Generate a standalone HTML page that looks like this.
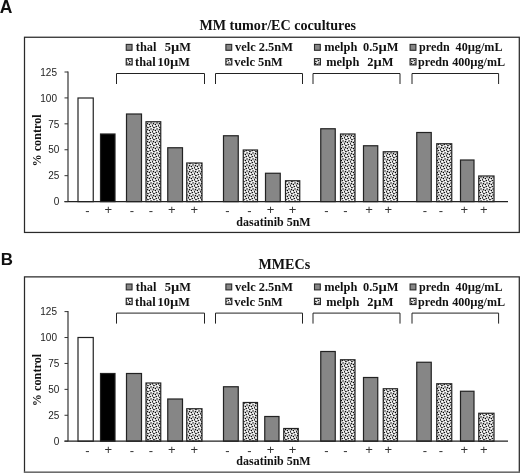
<!DOCTYPE html>
<html><head><meta charset="utf-8"><title>Figure</title>
<style>
html,body{margin:0;padding:0;background:#fff;}
svg{display:block}
.tb{font-family:"Liberation Serif",serif;font-weight:bold;fill:#111}
.ar{font-family:"Liberation Sans",sans-serif;fill:#222}
.sg{font-family:"Liberation Sans",sans-serif;fill:#333}
.ab{font-family:"Liberation Sans",sans-serif;font-weight:bold;fill:#111}
</style></head><body>
<svg width="520" height="473" viewBox="0 0 520 473">
<defs>
<pattern id="dots" x="5" y="4" width="6" height="6" patternUnits="userSpaceOnUse">
<rect width="6" height="6" fill="#fff"/>
<g shape-rendering="crispEdges"><rect x="0" y="0" width="1" height="1" fill="#000000"/><rect x="1" y="0" width="1" height="1" fill="#e6e6e6"/><rect x="2" y="0" width="1" height="1" fill="#c8c8c8"/><rect x="3" y="0" width="1" height="1" fill="#aaaaaa"/><rect x="4" y="0" width="1" height="1" fill="#aaaaaa"/><rect x="5" y="0" width="1" height="1" fill="#a0a0a0"/><rect x="0" y="1" width="1" height="1" fill="#bebebe"/><rect x="1" y="1" width="1" height="1" fill="#dcdcdc"/><rect x="2" y="1" width="1" height="1" fill="#f0f0f0"/><rect x="3" y="1" width="1" height="1" fill="#282828"/><rect x="4" y="1" width="1" height="1" fill="#f0f0f0"/><rect x="0" y="2" width="1" height="1" fill="#969696"/><rect x="1" y="2" width="1" height="1" fill="#141414"/><rect x="2" y="2" width="1" height="1" fill="#dcdcdc"/><rect x="3" y="2" width="1" height="1" fill="#787878"/><rect x="4" y="2" width="1" height="1" fill="#c8c8c8"/><rect x="5" y="2" width="1" height="1" fill="#f0f0f0"/><rect x="0" y="3" width="1" height="1" fill="#c8c8c8"/><rect x="1" y="3" width="1" height="1" fill="#d2d2d2"/><rect x="3" y="3" width="1" height="1" fill="#f0f0f0"/><rect x="4" y="3" width="1" height="1" fill="#323232"/><rect x="5" y="3" width="1" height="1" fill="#464646"/><rect x="1" y="4" width="1" height="1" fill="#969696"/><rect x="2" y="4" width="1" height="1" fill="#828282"/><rect x="3" y="4" width="1" height="1" fill="#f0f0f0"/><rect x="4" y="4" width="1" height="1" fill="#c8c8c8"/><rect x="5" y="4" width="1" height="1" fill="#d2d2d2"/><rect x="0" y="5" width="1" height="1" fill="#c8c8c8"/><rect x="1" y="5" width="1" height="1" fill="#8c8c8c"/><rect x="2" y="5" width="1" height="1" fill="#969696"/><rect x="3" y="5" width="1" height="1" fill="#bebebe"/><rect x="4" y="5" width="1" height="1" fill="#0a0a0a"/><rect x="5" y="5" width="1" height="1" fill="#c8c8c8"/></g>
</pattern>
</defs>
<rect width="520" height="473" fill="#fff"/>
<rect x="24.5" y="37.25" width="494.8" height="195.2" fill="none" stroke="#2a2a2a" stroke-width="1.25"/>
<text x="199.4" y="29.50" textLength="156.5" lengthAdjust="spacingAndGlyphs" class="tb" font-size="13.6">MM tumor/EC cocultures</text>
<text x="-0.2" y="12.6" class="ab" font-size="17.5">A</text>
<rect x="78.00" y="98.00" width="15.25" height="103.60" fill="#fff" stroke="#222" stroke-width="1.2"/>
<rect x="100.50" y="134.00" width="14.50" height="67.60" fill="#000" stroke="#222" stroke-width="1.2"/>
<rect x="126.50" y="114.00" width="15.00" height="87.60" fill="#868686" stroke="#222" stroke-width="1.2"/>
<rect x="146.00" y="121.75" width="14.75" height="79.85" fill="url(#dots)" stroke="#222" stroke-width="1.2"/>
<rect x="167.75" y="147.75" width="14.75" height="53.85" fill="#868686" stroke="#222" stroke-width="1.2"/>
<rect x="186.75" y="163.00" width="15.25" height="38.60" fill="url(#dots)" stroke="#222" stroke-width="1.2"/>
<rect x="223.50" y="135.75" width="14.75" height="65.85" fill="#868686" stroke="#222" stroke-width="1.2"/>
<rect x="243.25" y="150.00" width="14.25" height="51.60" fill="url(#dots)" stroke="#222" stroke-width="1.2"/>
<rect x="265.50" y="173.25" width="14.75" height="28.35" fill="#868686" stroke="#222" stroke-width="1.2"/>
<rect x="285.50" y="180.75" width="14.25" height="20.85" fill="url(#dots)" stroke="#222" stroke-width="1.2"/>
<rect x="320.75" y="128.75" width="14.50" height="72.85" fill="#868686" stroke="#222" stroke-width="1.2"/>
<rect x="340.50" y="134.00" width="14.50" height="67.60" fill="url(#dots)" stroke="#222" stroke-width="1.2"/>
<rect x="363.50" y="145.75" width="14.25" height="55.85" fill="#868686" stroke="#222" stroke-width="1.2"/>
<rect x="383.25" y="151.75" width="14.25" height="49.85" fill="url(#dots)" stroke="#222" stroke-width="1.2"/>
<rect x="416.75" y="132.50" width="14.50" height="69.10" fill="#868686" stroke="#222" stroke-width="1.2"/>
<rect x="436.75" y="143.75" width="15.00" height="57.85" fill="url(#dots)" stroke="#222" stroke-width="1.2"/>
<rect x="460.50" y="160.00" width="13.50" height="41.60" fill="#868686" stroke="#222" stroke-width="1.2"/>
<rect x="478.75" y="176.00" width="15.25" height="25.60" fill="url(#dots)" stroke="#222" stroke-width="1.2"/>
<line x1="68" y1="71.50" x2="68" y2="201.60" stroke="#333" stroke-width="1.2"/>
<line x1="64.5" y1="201.60" x2="508" y2="201.60" stroke="#222" stroke-width="1.3"/>
<line x1="64.5" y1="201.60" x2="68" y2="201.60" stroke="#333" stroke-width="1"/>
<text x="59.4" y="205.30" text-anchor="end" class="ar" font-size="10">0</text>
<line x1="64.5" y1="175.68" x2="68" y2="175.68" stroke="#333" stroke-width="1"/>
<text x="59.4" y="179.38" text-anchor="end" class="ar" font-size="10">25</text>
<line x1="64.5" y1="149.76" x2="68" y2="149.76" stroke="#333" stroke-width="1"/>
<text x="59.4" y="153.46" text-anchor="end" class="ar" font-size="10">50</text>
<line x1="64.5" y1="123.84" x2="68" y2="123.84" stroke="#333" stroke-width="1"/>
<text x="59.4" y="127.54" text-anchor="end" class="ar" font-size="10">75</text>
<line x1="64.5" y1="97.92" x2="68" y2="97.92" stroke="#333" stroke-width="1"/>
<text x="57" y="101.62" text-anchor="end" class="ar" font-size="10">100</text>
<line x1="64.5" y1="72.00" x2="68" y2="72.00" stroke="#333" stroke-width="1"/>
<text x="57" y="75.70" text-anchor="end" class="ar" font-size="10">125</text>
<text transform="translate(40.8,140.40) rotate(-90)" text-anchor="middle" class="tb" font-size="12.2">% control</text>
<text x="87.5" y="214.90" text-anchor="middle" class="sg" font-size="13">-</text>
<text x="108.25" y="214.10" text-anchor="middle" class="sg" font-size="13">+</text>
<text x="132" y="214.90" text-anchor="middle" class="sg" font-size="13">-</text>
<text x="151" y="214.90" text-anchor="middle" class="sg" font-size="13">-</text>
<text x="171.75" y="214.10" text-anchor="middle" class="sg" font-size="13">+</text>
<text x="194.25" y="214.10" text-anchor="middle" class="sg" font-size="13">+</text>
<text x="227.5" y="214.90" text-anchor="middle" class="sg" font-size="13">-</text>
<text x="249.5" y="214.90" text-anchor="middle" class="sg" font-size="13">-</text>
<text x="270.5" y="214.10" text-anchor="middle" class="sg" font-size="13">+</text>
<text x="292.5" y="214.10" text-anchor="middle" class="sg" font-size="13">+</text>
<text x="326.5" y="214.90" text-anchor="middle" class="sg" font-size="13">-</text>
<text x="345.5" y="214.90" text-anchor="middle" class="sg" font-size="13">-</text>
<text x="369" y="214.10" text-anchor="middle" class="sg" font-size="13">+</text>
<text x="388.25" y="214.10" text-anchor="middle" class="sg" font-size="13">+</text>
<text x="425" y="214.90" text-anchor="middle" class="sg" font-size="13">-</text>
<text x="441" y="214.90" text-anchor="middle" class="sg" font-size="13">-</text>
<text x="464.25" y="214.10" text-anchor="middle" class="sg" font-size="13">+</text>
<text x="483.75" y="214.10" text-anchor="middle" class="sg" font-size="13">+</text>
<text x="273.5" y="225.50" text-anchor="middle" class="tb" font-size="12">dasatinib 5nM</text>
<path d="M116.5 84.00V73.50H204.5V84.00" fill="none" stroke="#222" stroke-width="1"/>
<path d="M215.5 84.00V73.50H302.5V84.00" fill="none" stroke="#222" stroke-width="1"/>
<path d="M313 84.00V73.50H400V84.00" fill="none" stroke="#222" stroke-width="1"/>
<path d="M412 84.00V73.50H498.6V84.00" fill="none" stroke="#222" stroke-width="1"/>
<rect x="126.25" y="44.40" width="5.8" height="5.9" fill="#868686" stroke="#2a2a2a" stroke-width="1.1"/>
<rect x="126.25" y="58.70" width="5.9" height="6.2" fill="url(#dots)" stroke="#2a2a2a" stroke-width="1.2"/>
<text x="135.8" y="51.30" class="tb" font-size="12.4">thal</text>
<text x="191.0" y="51.30" text-anchor="end" class="tb" font-size="12.4">M</text>
<text transform="translate(171.01,51.30) scale(1.16,1)" class="tb" font-size="12.4">µ</text>
<text x="171.01" y="51.30" text-anchor="end" class="tb" font-size="12.4">5</text>
<text x="135.0" y="66.40" class="tb" font-size="12.4">thal</text>
<text x="189.9" y="66.40" text-anchor="end" class="tb" font-size="12.4">M</text>
<text transform="translate(169.91,66.40) scale(1.16,1)" class="tb" font-size="12.4">µ</text>
<text x="169.91" y="66.40" text-anchor="end" class="tb" font-size="12.4">10</text>
<rect x="225.90" y="44.40" width="5.8" height="5.9" fill="#868686" stroke="#2a2a2a" stroke-width="1.1"/>
<rect x="225.90" y="58.70" width="5.9" height="6.2" fill="url(#dots)" stroke="#2a2a2a" stroke-width="1.2"/>
<text x="235.1" y="51.30" class="tb" font-size="12.4">velc</text>
<text x="292.9" y="51.30" text-anchor="end" class="tb" font-size="12.4">2.5nM</text>
<text x="234.3" y="66.40" class="tb" font-size="12.4">velc</text>
<text x="282.8" y="66.40" text-anchor="end" class="tb" font-size="12.4">5nM</text>
<rect x="314.50" y="44.40" width="5.8" height="5.9" fill="#868686" stroke="#2a2a2a" stroke-width="1.1"/>
<rect x="314.50" y="58.70" width="5.9" height="6.2" fill="url(#dots)" stroke="#2a2a2a" stroke-width="1.2"/>
<text x="324.3" y="51.30" class="tb" font-size="12.4">melph</text>
<text x="398.5" y="51.30" text-anchor="end" class="tb" font-size="12.4">M</text>
<text transform="translate(378.51,51.30) scale(1.16,1)" class="tb" font-size="12.4">µ</text>
<text x="378.51" y="51.30" text-anchor="end" class="tb" font-size="12.4">0.5</text>
<text x="326.3" y="66.40" class="tb" font-size="12.4">melph</text>
<text x="393.5" y="66.40" text-anchor="end" class="tb" font-size="12.4">M</text>
<text transform="translate(373.51,66.40) scale(1.16,1)" class="tb" font-size="12.4">µ</text>
<text x="373.51" y="66.40" text-anchor="end" class="tb" font-size="12.4">2</text>
<rect x="410.10" y="44.40" width="5.8" height="5.9" fill="#868686" stroke="#2a2a2a" stroke-width="1.1"/>
<rect x="410.10" y="58.70" width="5.9" height="6.2" fill="url(#dots)" stroke="#2a2a2a" stroke-width="1.2"/>
<text x="419.1" y="51.30" class="tb" font-size="12.1">predn</text>
<text x="502.5" y="51.30" text-anchor="end" class="tb" font-size="12.1">g/mL</text>
<text transform="translate(467.69,51.30) scale(1.04,1)" class="tb" font-size="12.1">µ</text>
<text x="467.69" y="51.30" text-anchor="end" class="tb" font-size="12.1">40</text>
<text x="418.1" y="66.40" class="tb" font-size="12.1">predn</text>
<text x="505.1" y="66.40" text-anchor="end" class="tb" font-size="12.1">g/mL</text>
<text transform="translate(470.29,66.40) scale(1.04,1)" class="tb" font-size="12.1">µ</text>
<text x="470.29" y="66.40" text-anchor="end" class="tb" font-size="12.1">400</text>
<path d="M24.5 472.65V276.85H519.3V472.65" fill="none" stroke="#2a2a2a" stroke-width="1.25"/>
<rect x="23.9" y="471.4" width="496.1" height="1.6" fill="#6c6c6c"/>
<text x="258.5" y="269.10" textLength="51.7" lengthAdjust="spacingAndGlyphs" class="tb" font-size="13.6">MMECs</text>
<text x="0.8" y="265.2" class="ab" font-size="16.9">B</text>
<rect x="78.00" y="337.50" width="15.25" height="103.70" fill="#fff" stroke="#222" stroke-width="1.2"/>
<rect x="100.50" y="373.50" width="14.50" height="67.70" fill="#000" stroke="#222" stroke-width="1.2"/>
<rect x="126.50" y="373.50" width="15.00" height="67.70" fill="#868686" stroke="#222" stroke-width="1.2"/>
<rect x="146.00" y="383.00" width="14.75" height="58.20" fill="url(#dots)" stroke="#222" stroke-width="1.2"/>
<rect x="167.75" y="399.00" width="14.75" height="42.20" fill="#868686" stroke="#222" stroke-width="1.2"/>
<rect x="186.75" y="408.75" width="15.25" height="32.45" fill="url(#dots)" stroke="#222" stroke-width="1.2"/>
<rect x="223.50" y="386.75" width="14.75" height="54.45" fill="#868686" stroke="#222" stroke-width="1.2"/>
<rect x="243.25" y="402.50" width="14.25" height="38.70" fill="url(#dots)" stroke="#222" stroke-width="1.2"/>
<rect x="264.75" y="416.50" width="14.25" height="24.70" fill="#868686" stroke="#222" stroke-width="1.2"/>
<rect x="283.75" y="428.50" width="14.50" height="12.70" fill="url(#dots)" stroke="#222" stroke-width="1.2"/>
<rect x="320.75" y="351.50" width="14.50" height="89.70" fill="#868686" stroke="#222" stroke-width="1.2"/>
<rect x="340.50" y="359.75" width="14.50" height="81.45" fill="url(#dots)" stroke="#222" stroke-width="1.2"/>
<rect x="363.50" y="377.50" width="14.25" height="63.70" fill="#868686" stroke="#222" stroke-width="1.2"/>
<rect x="383.25" y="388.75" width="14.25" height="52.45" fill="url(#dots)" stroke="#222" stroke-width="1.2"/>
<rect x="416.75" y="362.25" width="14.50" height="78.95" fill="#868686" stroke="#222" stroke-width="1.2"/>
<rect x="436.75" y="383.75" width="15.00" height="57.45" fill="url(#dots)" stroke="#222" stroke-width="1.2"/>
<rect x="460.50" y="391.25" width="13.50" height="49.95" fill="#868686" stroke="#222" stroke-width="1.2"/>
<rect x="478.75" y="413.25" width="15.25" height="27.95" fill="url(#dots)" stroke="#222" stroke-width="1.2"/>
<line x1="68" y1="311.10" x2="68" y2="441.20" stroke="#333" stroke-width="1.2"/>
<line x1="64.5" y1="441.20" x2="508" y2="441.20" stroke="#222" stroke-width="1.3"/>
<line x1="64.5" y1="441.20" x2="68" y2="441.20" stroke="#333" stroke-width="1"/>
<text x="59.4" y="444.90" text-anchor="end" class="ar" font-size="10">0</text>
<line x1="64.5" y1="415.28" x2="68" y2="415.28" stroke="#333" stroke-width="1"/>
<text x="59.4" y="418.98" text-anchor="end" class="ar" font-size="10">25</text>
<line x1="64.5" y1="389.36" x2="68" y2="389.36" stroke="#333" stroke-width="1"/>
<text x="59.4" y="393.06" text-anchor="end" class="ar" font-size="10">50</text>
<line x1="64.5" y1="363.44" x2="68" y2="363.44" stroke="#333" stroke-width="1"/>
<text x="59.4" y="367.14" text-anchor="end" class="ar" font-size="10">75</text>
<line x1="64.5" y1="337.52" x2="68" y2="337.52" stroke="#333" stroke-width="1"/>
<text x="57" y="341.22" text-anchor="end" class="ar" font-size="10">100</text>
<line x1="64.5" y1="311.60" x2="68" y2="311.60" stroke="#333" stroke-width="1"/>
<text x="57" y="315.30" text-anchor="end" class="ar" font-size="10">125</text>
<text transform="translate(40.8,380.00) rotate(-90)" text-anchor="middle" class="tb" font-size="12.2">% control</text>
<text x="87.5" y="454.50" text-anchor="middle" class="sg" font-size="13">-</text>
<text x="108.25" y="453.70" text-anchor="middle" class="sg" font-size="13">+</text>
<text x="132" y="454.50" text-anchor="middle" class="sg" font-size="13">-</text>
<text x="151" y="454.50" text-anchor="middle" class="sg" font-size="13">-</text>
<text x="171.75" y="453.70" text-anchor="middle" class="sg" font-size="13">+</text>
<text x="194.25" y="453.70" text-anchor="middle" class="sg" font-size="13">+</text>
<text x="227.5" y="454.50" text-anchor="middle" class="sg" font-size="13">-</text>
<text x="249.5" y="454.50" text-anchor="middle" class="sg" font-size="13">-</text>
<text x="270.5" y="453.70" text-anchor="middle" class="sg" font-size="13">+</text>
<text x="292.5" y="453.70" text-anchor="middle" class="sg" font-size="13">+</text>
<text x="326.5" y="454.50" text-anchor="middle" class="sg" font-size="13">-</text>
<text x="345.5" y="454.50" text-anchor="middle" class="sg" font-size="13">-</text>
<text x="369" y="453.70" text-anchor="middle" class="sg" font-size="13">+</text>
<text x="388.25" y="453.70" text-anchor="middle" class="sg" font-size="13">+</text>
<text x="425" y="454.50" text-anchor="middle" class="sg" font-size="13">-</text>
<text x="441" y="454.50" text-anchor="middle" class="sg" font-size="13">-</text>
<text x="464.25" y="453.70" text-anchor="middle" class="sg" font-size="13">+</text>
<text x="483.75" y="453.70" text-anchor="middle" class="sg" font-size="13">+</text>
<text x="273.5" y="465.10" text-anchor="middle" class="tb" font-size="12">dasatinib 5nM</text>
<path d="M116.5 323.60V313.10H204.5V323.60" fill="none" stroke="#222" stroke-width="1"/>
<path d="M215.5 323.60V313.10H302.5V323.60" fill="none" stroke="#222" stroke-width="1"/>
<path d="M313 323.60V313.10H400V323.60" fill="none" stroke="#222" stroke-width="1"/>
<path d="M412 323.60V313.10H498.6V323.60" fill="none" stroke="#222" stroke-width="1"/>
<rect x="126.25" y="284.00" width="5.8" height="5.9" fill="#868686" stroke="#2a2a2a" stroke-width="1.1"/>
<rect x="126.25" y="298.30" width="5.9" height="6.2" fill="url(#dots)" stroke="#2a2a2a" stroke-width="1.2"/>
<text x="135.8" y="290.90" class="tb" font-size="12.4">thal</text>
<text x="191.0" y="290.90" text-anchor="end" class="tb" font-size="12.4">M</text>
<text transform="translate(171.01,290.90) scale(1.16,1)" class="tb" font-size="12.4">µ</text>
<text x="171.01" y="290.90" text-anchor="end" class="tb" font-size="12.4">5</text>
<text x="135.0" y="306.00" class="tb" font-size="12.4">thal</text>
<text x="189.9" y="306.00" text-anchor="end" class="tb" font-size="12.4">M</text>
<text transform="translate(169.91,306.00) scale(1.16,1)" class="tb" font-size="12.4">µ</text>
<text x="169.91" y="306.00" text-anchor="end" class="tb" font-size="12.4">10</text>
<rect x="225.90" y="284.00" width="5.8" height="5.9" fill="#868686" stroke="#2a2a2a" stroke-width="1.1"/>
<rect x="225.90" y="298.30" width="5.9" height="6.2" fill="url(#dots)" stroke="#2a2a2a" stroke-width="1.2"/>
<text x="235.1" y="290.90" class="tb" font-size="12.4">velc</text>
<text x="292.9" y="290.90" text-anchor="end" class="tb" font-size="12.4">2.5nM</text>
<text x="234.3" y="306.00" class="tb" font-size="12.4">velc</text>
<text x="282.8" y="306.00" text-anchor="end" class="tb" font-size="12.4">5nM</text>
<rect x="314.50" y="284.00" width="5.8" height="5.9" fill="#868686" stroke="#2a2a2a" stroke-width="1.1"/>
<rect x="314.50" y="298.30" width="5.9" height="6.2" fill="url(#dots)" stroke="#2a2a2a" stroke-width="1.2"/>
<text x="324.3" y="290.90" class="tb" font-size="12.4">melph</text>
<text x="398.5" y="290.90" text-anchor="end" class="tb" font-size="12.4">M</text>
<text transform="translate(378.51,290.90) scale(1.16,1)" class="tb" font-size="12.4">µ</text>
<text x="378.51" y="290.90" text-anchor="end" class="tb" font-size="12.4">0.5</text>
<text x="326.3" y="306.00" class="tb" font-size="12.4">melph</text>
<text x="393.5" y="306.00" text-anchor="end" class="tb" font-size="12.4">M</text>
<text transform="translate(373.51,306.00) scale(1.16,1)" class="tb" font-size="12.4">µ</text>
<text x="373.51" y="306.00" text-anchor="end" class="tb" font-size="12.4">2</text>
<rect x="410.10" y="284.00" width="5.8" height="5.9" fill="#868686" stroke="#2a2a2a" stroke-width="1.1"/>
<rect x="410.10" y="298.30" width="5.9" height="6.2" fill="url(#dots)" stroke="#2a2a2a" stroke-width="1.2"/>
<text x="419.1" y="290.90" class="tb" font-size="12.1">predn</text>
<text x="502.5" y="290.90" text-anchor="end" class="tb" font-size="12.1">g/mL</text>
<text transform="translate(467.69,290.90) scale(1.04,1)" class="tb" font-size="12.1">µ</text>
<text x="467.69" y="290.90" text-anchor="end" class="tb" font-size="12.1">40</text>
<text x="418.1" y="306.00" class="tb" font-size="12.1">predn</text>
<text x="505.1" y="306.00" text-anchor="end" class="tb" font-size="12.1">g/mL</text>
<text transform="translate(470.29,306.00) scale(1.04,1)" class="tb" font-size="12.1">µ</text>
<text x="470.29" y="306.00" text-anchor="end" class="tb" font-size="12.1">400</text>
</svg>
</body></html>
